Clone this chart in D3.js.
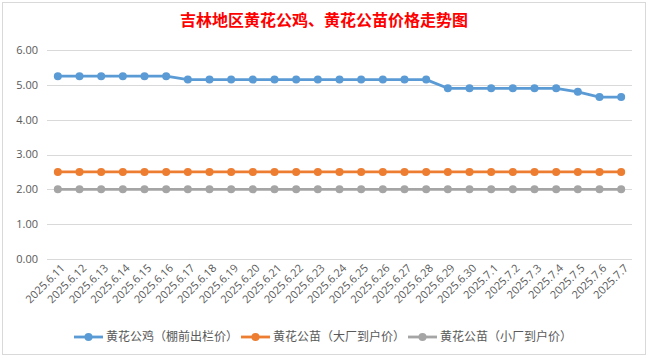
<!DOCTYPE html>
<html><head><meta charset="utf-8">
<script src="https://cdn.jsdelivr.net/npm/d3@7"></script>
<style>
html,body{margin:0;padding:0;background:#fff;}
text{font-family:"Open Sans","Noto Sans CJK SC",sans-serif;}
</style></head>
<body><svg id="c" width="649" height="358"></svg>
<script>
const title = "吉林地区黄花公鸡、黄花公苗价格走势图";
const dates = ["2025.6.11","2025.6.12","2025.6.13","2025.6.14","2025.6.15","2025.6.16","2025.6.17","2025.6.18","2025.6.19","2025.6.20","2025.6.21","2025.6.22","2025.6.23","2025.6.24","2025.6.25","2025.6.26","2025.6.27","2025.6.28","2025.6.29","2025.6.30","2025.7.1","2025.7.2","2025.7.3","2025.7.4","2025.7.5","2025.7.6","2025.7.7"];
const seriesNames = ["黄花公鸡（棚前出栏价）","黄花公苗（大厂到户价）","黄花公苗（小厂到户价）"];
const rooster = [5.25,5.25,5.25,5.25,5.25,5.25,5.15,5.15,5.15,5.15,5.15,5.15,5.15,5.15,5.15,5.15,5.15,5.15,4.9,4.9,4.9,4.9,4.9,4.9,4.8,4.65,4.65];
const chickBig = [2.5,2.5,2.5,2.5,2.5,2.5,2.5,2.5,2.5,2.5,2.5,2.5,2.5,2.5,2.5,2.5,2.5,2.5,2.5,2.5,2.5,2.5,2.5,2.5,2.5,2.5,2.5];
const chickSmall = [2,2,2,2,2,2,2,2,2,2,2,2,2,2,2,2,2,2,2,2,2,2,2,2,2,2,2];
const yTicks = [0,1,2,3,4,5,6];
const colors = ["#5B9BD5","#ED7D31","#A5A5A5"];

const svg = d3.select("#c");
svg.append("rect").attr("x",2.5).attr("y",2.5).attr("width",643).attr("height",352)
  .attr("fill","#fff").attr("stroke","#d9d9d9").attr("stroke-width",1);

svg.append("text").attr("x",324).attr("y",26).attr("text-anchor","middle")
  .attr("fill","#FF0000").attr("font-size",16).attr("font-weight","bold")
  .style("font-family","'Noto Sans CJK SC',sans-serif").text(title);

const x = d3.scaleBand().domain(dates).range([47,632]);
const y = d3.scaleLinear().domain([0,6]).range([259,50]);

const grid = svg.append("g");
yTicks.forEach(t=>{
  grid.append("line").attr("x1",47).attr("x2",632).attr("y1",Math.round(y(t))+0.5).attr("y2",Math.round(y(t))+0.5)
    .attr("stroke","#d9d9d9").attr("stroke-width",1);
  grid.append("text").attr("x",38).attr("y",y(t)).attr("dy","0.35em").attr("text-anchor","end")
    .attr("fill","#595959").attr("font-size",11).text(d3.format(".2f")(t));
});

dates.forEach(d=>{
  const cx = x(d)+x.bandwidth()/2;
  svg.append("text").attr("transform",`translate(${cx+5},${266}) rotate(-45)`)
    .attr("text-anchor","end").attr("dy","0.35em").attr("fill","#595959").attr("font-size",11).text(d);
});

const all = [rooster, chickBig, chickSmall];
const line = d3.line().x((v,i)=>x(dates[i])+x.bandwidth()/2).y(v=>y(v));
all.forEach((s,k)=>{
  svg.append("path").attr("d",line(s)).attr("fill","none").attr("stroke",colors[k]).attr("stroke-width",2.8).attr("stroke-linejoin","round");
  svg.append("g").selectAll("circle").data(s).join("circle")
    .attr("cx",(v,i)=>x(dates[i])+x.bandwidth()/2).attr("cy",v=>y(v)).attr("r",4).attr("fill",colors[k]);
});

const legX = [74,241,408];
seriesNames.forEach((n,k)=>{
  const g = svg.append("g").attr("transform",`translate(${legX[k]},337)`);
  g.append("line").attr("x1",0).attr("x2",29).attr("y1",0).attr("y2",0).attr("stroke",colors[k]).attr("stroke-width",2.8);
  g.append("circle").attr("cx",14.5).attr("cy",0).attr("r",4).attr("fill",colors[k]);
  g.append("text").attr("x",32).attr("y",0).attr("dy","0.35em").attr("fill","#595959").attr("font-size",12)
    .style("font-family","'Noto Sans CJK SC',sans-serif").text(n);
});
</script></body></html>
